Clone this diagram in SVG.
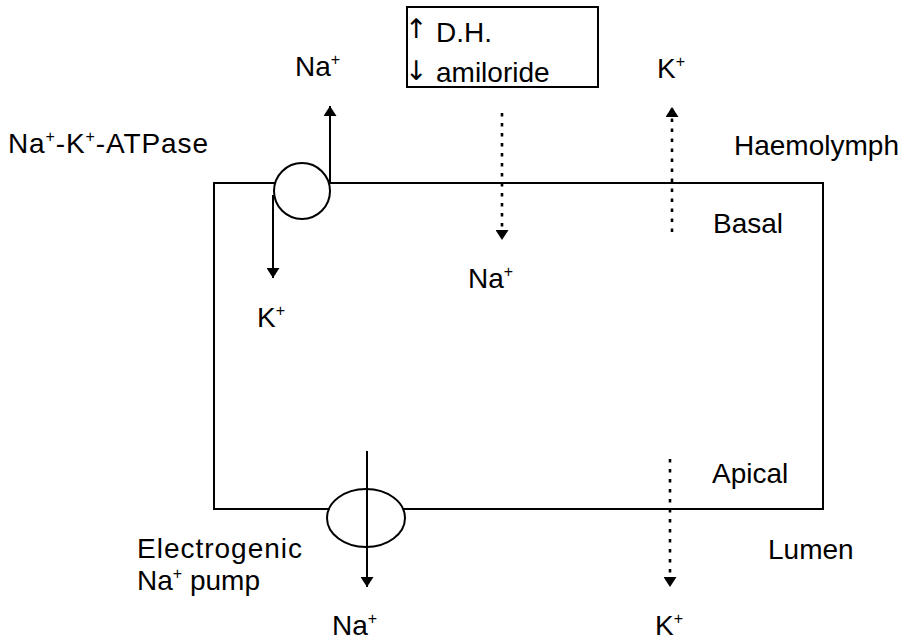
<svg xmlns="http://www.w3.org/2000/svg" width="908" height="643" viewBox="0 0 908 643">
<style>
text{font-family:"Liberation Sans",Arial,sans-serif;font-size:28px;fill:#000}
.sup{font-size:16px}
.arr{font-family:"DejaVu Sans",sans-serif;font-size:27px}
.ln{fill:none;stroke:#000;stroke-width:2}
.dot{fill:none;stroke:#000;stroke-width:2.6;stroke-dasharray:3.5 6.5}
.mem{fill:#fff;stroke:#000;stroke-width:2}
</style>
<defs>
<marker id="ah" viewBox="0 0 10 13" refX="10" refY="6.5" markerWidth="10" markerHeight="13" markerUnits="userSpaceOnUse" orient="auto">
<path d="M0,0 L10,6.5 L0,13 z" fill="#000"/>
</marker>
</defs>
<rect id="cell" x="214" y="183" width="609" height="326" class="ln"/>
<g id="connectors">
<path d="M330,183 V106" class="ln" marker-end="url(#ah)"/>
<path d="M273,195 V278" class="ln" marker-end="url(#ah)"/>
<path d="M502,113 V240" class="dot" marker-end="url(#ah)"/>
<path d="M672,232 V107" class="dot" marker-end="url(#ah)"/>
<path d="M670,459 V587" class="dot" marker-end="url(#ah)"/>
</g>
<g id="atpase">
<circle cx="302" cy="191" r="28" class="mem"/>
<text x="8" y="153" textLength="200">Na<tspan class="sup" dy="-11">+</tspan><tspan dy="11">-K</tspan><tspan class="sup" dy="-11">+</tspan><tspan dy="11">-ATPase</tspan></text>
</g>
<g id="pump">
<ellipse cx="366" cy="518" rx="39" ry="29" class="mem"/>
<path d="M367,451 V587" class="ln" marker-end="url(#ah)"/>
<text x="137" y="558" textLength="165">Electrogenic</text>
<text x="137" y="590">Na<tspan class="sup" dy="-11">+</tspan><tspan dy="11"> pump</tspan></text>
</g>
<g id="box">
<rect x="407" y="7" width="191" height="80" fill="#fff" stroke="#000" stroke-width="2"/>
<text class="arr" x="405" y="38">↑</text>
<text x="436" y="42">D.H.</text>
<text class="arr" x="405" y="80">↓</text>
<text x="436" y="82">amiloride</text>
</g>
<g id="labels">
<text x="295" y="76">Na<tspan class="sup" dy="-11">+</tspan></text>
<text x="657" y="78">K<tspan class="sup" dy="-11">+</tspan></text>
<text x="734" y="155">Haemolymph</text>
<text x="713" y="233">Basal</text>
<text x="257" y="327">K<tspan class="sup" dy="-11">+</tspan></text>
<text x="468" y="288">Na<tspan class="sup" dy="-11">+</tspan></text>
<text x="712" y="483">Apical</text>
<text x="768" y="559">Lumen</text>
<text x="332" y="635">Na<tspan class="sup" dy="-11">+</tspan></text>
<text x="655" y="635">K<tspan class="sup" dy="-11">+</tspan></text>
</g>
</svg>
